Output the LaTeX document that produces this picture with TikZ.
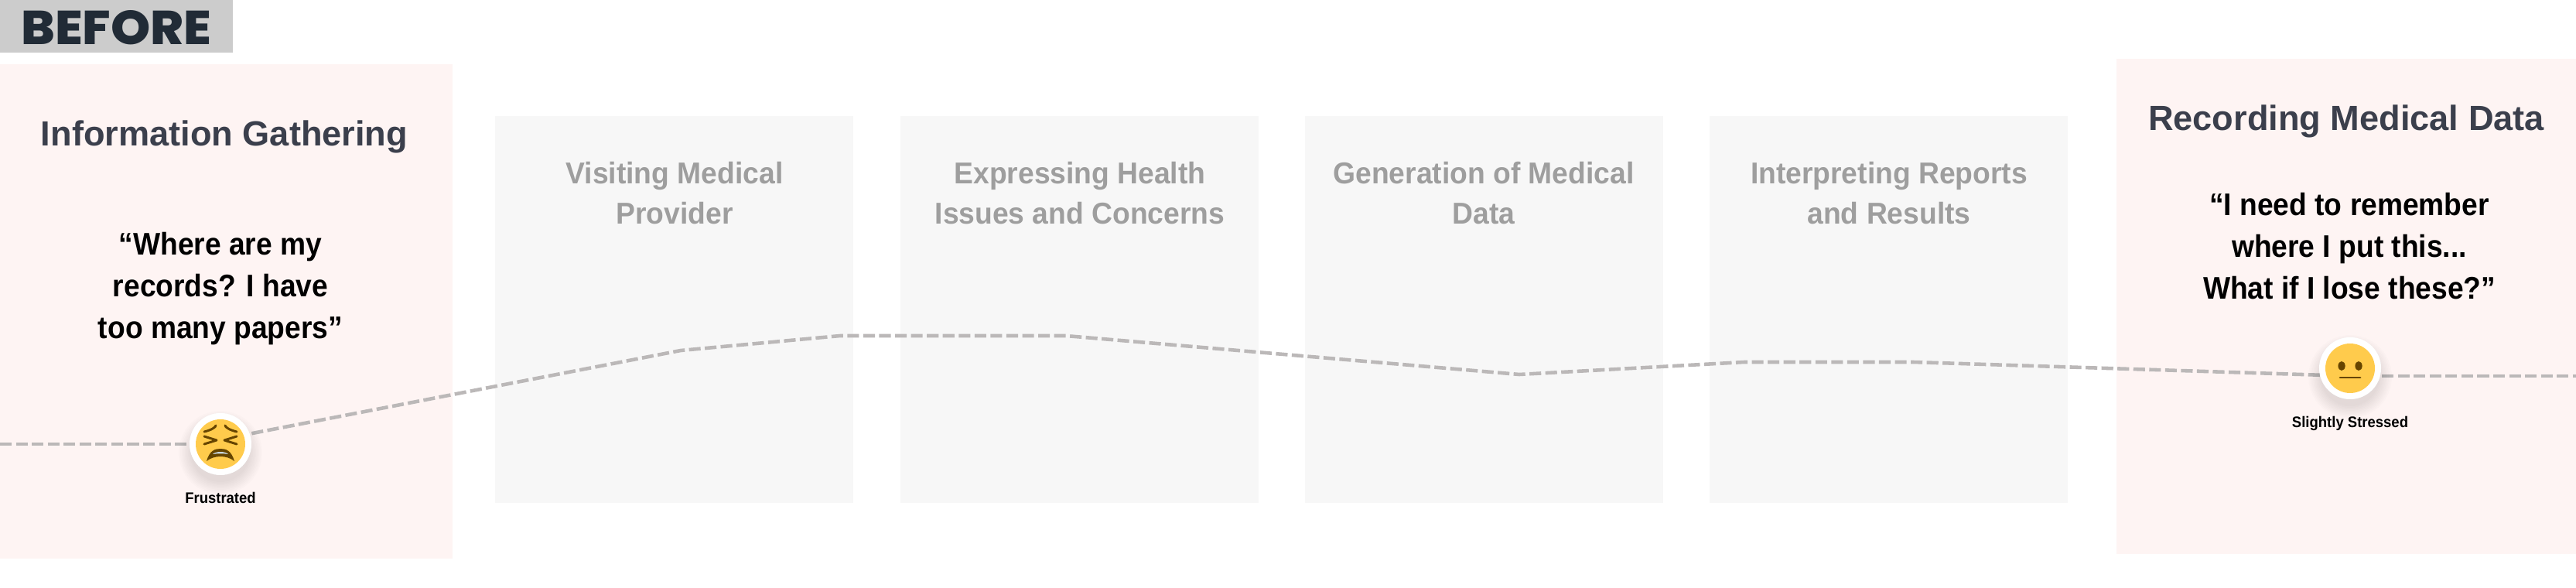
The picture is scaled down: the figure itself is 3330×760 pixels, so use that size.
\documentclass[tikz,border=0pt]{standalone}
\usepackage{fontspec}
\setmainfont{Liberation Sans}
\newfontfamily\quotefont{Liberation Sans Bold}[FakeStretch=0.92]
\newfontfamily\mutedfont{Liberation Sans Bold}[FakeStretch=0.955]
\newfontfamily\moodfont{Liberation Sans Bold}[FakeStretch=0.94]
\newfontfamily\befont{Poppins ExtraBold}[FakeStretch=1.06]
\definecolor{pinkbg}{HTML}{FEF4F3}
\definecolor{graybg}{HTML}{F7F7F7}
\definecolor{bandbg}{HTML}{CCCCCC}
\definecolor{beforeink}{HTML}{212B36}
\definecolor{titleink}{HTML}{3B3F4C}
\definecolor{mutedink}{HTML}{9E9E9E}
\definecolor{pathink}{HTML}{BBB8B8}
\definecolor{faceyellow}{HTML}{FFCB4C}
\definecolor{facebrown}{HTML}{664500}
\definecolor{toothgrey}{HTML}{C9D6DE}
\tikzset{
  x=0.02cm,y=-0.02cm,
  panel/.style={anchor=north west,inner sep=0pt,outer sep=0pt,draw=none},
  pinkpanel/.style={panel,fill=pinkbg},
  graypanel/.style={panel,fill=graybg,minimum width=9.26cm,minimum height=10cm},
  titletext/.style={anchor=center,align=center,inner sep=0pt,text=titleink,font=\bfseries\fontsize{25.7}{30}\selectfont},
  quotetext/.style={anchor=center,align=center,inner sep=0pt,text=black,font=\quotefont\fontsize{23}{30.7}\selectfont},
  mutedtext/.style={anchor=center,align=center,inner sep=0pt,text=mutedink,font=\mutedfont\fontsize{22.2}{29.6}\selectfont},
  moodtext/.style={anchor=base,inner sep=0pt,text=black,font=\moodfont\fontsize{11.2}{13}\selectfont},
  journey/.style={draw=pathink,line width=2.6pt,dash pattern=on 8.6pt off 3.1pt},
  ring/.style={circle,fill=white,inner sep=0pt,minimum size=1.6cm},
  face/.style={fill=faceyellow,draw=none},
  feature/.style={draw=facebrown,line width=1.7pt,line cap=round,line join=round,fill=none},
}
\newcommand{\softshadow}[2]{%
  \foreach \r in {38,40,...,54}{\fill[black,opacity=0.012] (#1,#2+11) circle[radius=\r];}}
\begin{document}
\begin{tikzpicture}
\useasboundingbox[fill=white] (0,0) rectangle (3330,760);
% header band
\node[panel,fill=bandbg,minimum width=6.02cm,minimum height=1.36cm] (band) at (0,0) {};
\node[anchor=base west,inner sep=0pt,text=beforeink,font=\befont\fontsize{35}{40}\selectfont] (before) at (27,58) {BEFORE};
% panels
\node[pinkpanel,minimum width=11.7cm,minimum height=12.78cm] (pinkL) at (0,83) {};
\node[pinkpanel,minimum width=11.88cm,minimum height=12.8cm] (pinkR) at (2736,76) {};
\node[graypanel] (g1) at (640,150) {};
\node[graypanel] (g2) at (1164,150) {};
\node[graypanel] (g3) at (1687,150) {};
\node[graypanel] (g4) at (2210,150) {};
% journey line
\coordinate (start) at (0,574);
\coordinate (m1) at (880,453);
\coordinate (m2) at (1086,434);
\coordinate (m3) at (1378,434);
\coordinate (m4) at (1964,484);
\coordinate (m5) at (2255,468);
\coordinate (m6) at (2473,468);
\coordinate (end) at (3330,486);
\node[ring] (mood1) at (285,574) {};
\node[ring] (mood2) at (3038,476) {};
\draw[journey] (start) -- (mood1.center);
\draw[journey] (mood1.center) ++(0,-6) -- (m1) -- (m2) -- (m3) -- (m4) -- (m5) -- (m6) -- (3038,486);
\draw[journey] (3038,486) -- (end);
% emoji shadows and rings
\softshadow{285}{574}
\softshadow{3038}{476}
\node[ring] (ring1) at (mood1) {};
\node[ring] (ring2) at (mood2) {};
% tired face
\fill[face] (mood1) circle[radius=32];
\begin{scope}[shift={(mood1)}]
  \draw[feature] (-21,-16) .. controls (-12,-18) and (-6,-22) .. (-6,-24);
  \draw[feature] (21,-16) .. controls (12,-18) and (6,-22) .. (6,-24);
  \draw[feature] (-21,-10) -- (-5,-5) -- (-21,0);
  \draw[feature] (21,-10) -- (5,-5) -- (21,0);
  \fill[facebrown] (-18,22) .. controls (-14,8) and (-7,6) .. (0,6) .. controls (7,6) and (14,8) .. (18,22) .. controls (8,14) and (-8,14) .. (-18,22) -- cycle;
  \fill[toothgrey] (-10,13) .. controls (-6,9) and (6,9) .. (10,13) .. controls (4,12) and (-4,12) .. (-10,13) -- cycle;
\end{scope}
% neutral face
\fill[face] (mood2) circle[radius=32];
\begin{scope}[shift={(mood2)}]
  \fill[facebrown] (-11,-3) ellipse[x radius=4.6,y radius=6];
  \fill[facebrown] (11,-3) ellipse[x radius=4.6,y radius=6];
  \draw[feature] (-13,12) -- (13,12);
\end{scope}
% titles
\node[titletext] (t1) at (290,177) {Information Gathering};
\node[titletext] (t6) at (3033,157) {Recording Medical Data};
\node[quotetext] (q1) at (285,373) {“Where are my\\records? I have\\too many papers”};
\node[quotetext] (q6) at (3037,318) {“I need to remember\\where I put this...\\What if I lose these?”};
\node[mutedtext] (t2) at (872,250) {Visiting Medical\\Provider};
\node[mutedtext] (t3) at (1396,250) {Expressing Health\\Issues and Concerns};
\node[mutedtext] (t4) at (1918,250) {Generation of Medical\\Data};
\node[mutedtext] (t5) at (2442,250) {Interpreting Reports\\and Results};
\node[moodtext] (l1) at (285,650) {Frustrated};
\node[moodtext] (l6) at (3038,552) {Slightly Stressed};
\end{tikzpicture}
\end{document}
